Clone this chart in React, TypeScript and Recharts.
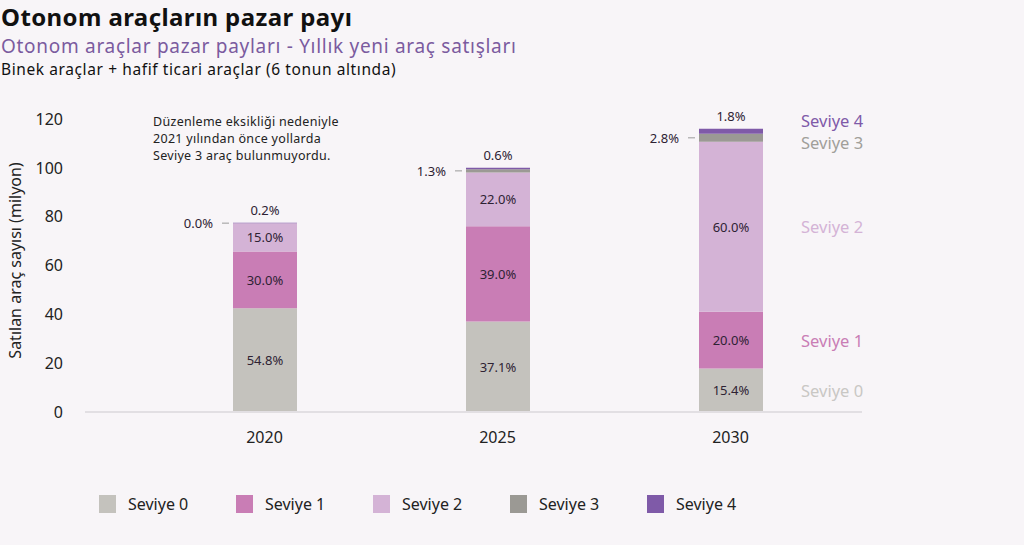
import React from "react";
import {
  BarChart,
  Bar,
  XAxis,
  YAxis,
  LabelList,
  Label,
} from "recharts";

const years = ["2020", "2025", "2030"];
// total sales, millions of vehicles
const totalsMillion = [77.5, 100, 116];
// market share per autonomy level, %
const level0Share = [54.8, 37.1, 15.4];
const level1Share = [30.0, 39.0, 20.0];
const level2Share = [15.0, 22.0, 60.0];
const level3Share = [0.0, 1.3, 2.8];
const level4Share = [0.2, 0.6, 1.8];
const yTicks = [0, 20, 40, 60, 80, 100, 120];

const levelNames = ["Seviye 0", "Seviye 1", "Seviye 2", "Seviye 3", "Seviye 4"];
const levelColors = ["#c4c2bd", "#c97db5", "#d4b3d6", "#9b9994", "#7f5aa8"];
const sideLabelColors = ["#c9c7c4", "#c97db5", "#d4b3d6", "#a19f9a", "#7f5aa8"];
const shares = [level0Share, level1Share, level2Share, level3Share, level4Share];

const data = years.map((year, i) => {
  const row: Record<string, string | number> = { year };
  shares.forEach((s, l) => {
    row["s" + l] = (totalsMillion[i] * s[i]) / 100;
    row["p" + l] = s[i];
  });
  return row;
});

const FONT = "'Noto Sans', sans-serif";
const fmt = (v: number) => `${Number(v).toFixed(1)}%`;
const last = years.length - 1;

const pctText = (x: number, y: number, v: number, anchor = "middle") => (
  <text
    x={x}
    y={y}
    textAnchor={anchor}
    dominantBaseline="central"
    fontSize={13}
    fontFamily={FONT}
    fill="#2e2233"
  >
    {fmt(v)}
  </text>
);

const sideText = (x: number, y: number, level: number) => (
  <text
    x={x}
    y={y}
    dominantBaseline="central"
    fontSize={16.5}
    fontFamily={FONT}
    fill={sideLabelColors[level]}
  >
    {levelNames[level]}
  </text>
);

const leftMarker = (x: number, cy: number, v: number) => (
  <g>
    <line x1={x - 11} x2={x - 4} y1={cy} y2={cy} stroke="#9a9a9a" strokeWidth={1} />
    {pctText(x - 20, cy, v, "end")}
  </g>
);

// levels 0..2: value inside the segment, name on the right of the last bar.
// Level 2 also carries the level-3 marks (its top is where level 3 starts),
// because a zero-height level-3 segment gets no label of its own.
const makeInsideLabel = (level: number) => (props: any) => {
  const { x, y, width, height, index } = props;
  const v = shares[level][index];
  const parts = [pctText(x + width / 2, y + height / 2, v)];
  if (index === last) {
    parts.push(sideText(x + width + 38, y + height / 2, level));
  }
  if (level === 2) {
    const pxPerPct = height / v;
    const h3 = level3Share[index] * pxPerPct;
    const cy3 = y - h3 / 2;
    if (level3Share[index] === 0) parts.push(leftMarker(x, cy3, 0));
    if (index === last) parts.push(sideText(x + width + 38, cy3 + 5, 3));
  }
  return <g>{parts.map((p, k) => React.cloneElement(p, { key: k }))}</g>;
};

const Level3Label = (props: any) => {
  const { x, y, height, value } = props;
  if (!value) return null;
  return leftMarker(x, y + height / 2, value);
};

const Level4Label = (props: any) => {
  const { x, y, width, height, index } = props;
  return (
    <g>
      {pctText(x + width / 2, y - 13, level4Share[index])}
      {index === last ? sideText(x + width + 38, y + height / 2 - 11, 4) : null}
    </g>
  );
};

const YTitle = (props: any) => {
  const { viewBox } = props;
  const cy = viewBox.y + viewBox.height / 2 - 5;
  return (
    <text
      x={15}
      y={cy}
      transform={`rotate(-90, 15, ${cy})`}
      textAnchor="middle"
      dominantBaseline="central"
      fontSize={16}
      fontFamily={FONT}
      fill="#222"
    >
      Satılan araç sayısı (milyon)
    </text>
  );
};

export default function App() {
  return (
    <div
      style={{
        position: "absolute",
        left: 0,
        top: 0,
        width: 1024,
        height: 545,
        background: "#f8f5f8",
        fontFamily: FONT,
        overflow: "hidden",
      }}
    >
      <div style={{ position: "absolute", left: 1, top: 0, fontSize: 24, lineHeight: "33px", letterSpacing: 0.4, fontWeight: 700, color: "#111", whiteSpace: "nowrap" }}>
        Otonom araçların pazar payı
      </div>
      <div style={{ position: "absolute", left: 1, top: 33, fontSize: 19, lineHeight: "26px", letterSpacing: 0.7, color: "#7b5b9f", whiteSpace: "nowrap" }}>
        Otonom araçlar pazar payları - Yıllık yeni araç satışları
      </div>
      <div style={{ position: "absolute", left: 1, top: 59, fontSize: 15.5, lineHeight: "21px", letterSpacing: 0.6, color: "#111", whiteSpace: "nowrap" }}>
        Binek araçlar + hafif ticari araçlar (6 tonun altında)
      </div>
      <div
        style={{
          position: "absolute",
          left: 153,
          top: 113,
          fontSize: 12.5,
          lineHeight: "17px",
          letterSpacing: 0.3,
          color: "#222",
        }}
      >
        Düzenleme eksikliği nedeniyle
        <br />
        2021 yılından önce yollarda
        <br />
        Seviye 3 araç bulunmuyordu.
      </div>

      <div style={{ position: "absolute", left: 0, top: 0 }}>
        <BarChart
          width={1024}
          height={545}
          data={data}
          margin={{ top: 119, right: 162, bottom: 103, left: 10 }}
        >
          <XAxis
            dataKey="year"
            height={30}
            padding={{ left: 63, right: 15 }}
            axisLine={{ stroke: "#e2dfe3", strokeWidth: 2 }}
            tickLine={false}
            tickSize={0}
            tickMargin={20}
            tick={{ fontSize: 16, fill: "#222", fontFamily: FONT }}
          />
          <YAxis
            width={75}
            domain={[0, 120]}
            ticks={yTicks}
            axisLine={false}
            tickLine={false}
            tickSize={0}
            tickMargin={22}
            tick={{ fontSize: 16, fill: "#222", fontFamily: FONT }}
          >
            <Label content={<YTitle />} />
          </YAxis>
          {levelNames.map((name, l) => (
            <Bar
              key={name}
              name={name}
              dataKey={"s" + l}
              stackId="a"
              fill={levelColors[l]}
              barSize={64}
              isAnimationActive={false}
            >
              <LabelList
                dataKey={"p" + l}
                content={l < 3 ? makeInsideLabel(l) : l === 3 ? Level3Label : Level4Label}
              />
            </Bar>
          ))}
        </BarChart>
      </div>

      <div
        style={{
          position: "absolute",
          left: 99,
          top: 493,
          display: "flex",
        }}
      >
        {levelNames.map((name, l) => (
          <div key={name} style={{ width: 137, display: "flex", alignItems: "center" }}>
            <span
              style={{
                display: "inline-block",
                width: 17,
                height: 18,
                background: levelColors[l],
                marginRight: 12,
              }}
            />
            <span style={{ fontSize: 16, color: "#222" }}>{name}</span>
          </div>
        ))}
      </div>
    </div>
  );
}
